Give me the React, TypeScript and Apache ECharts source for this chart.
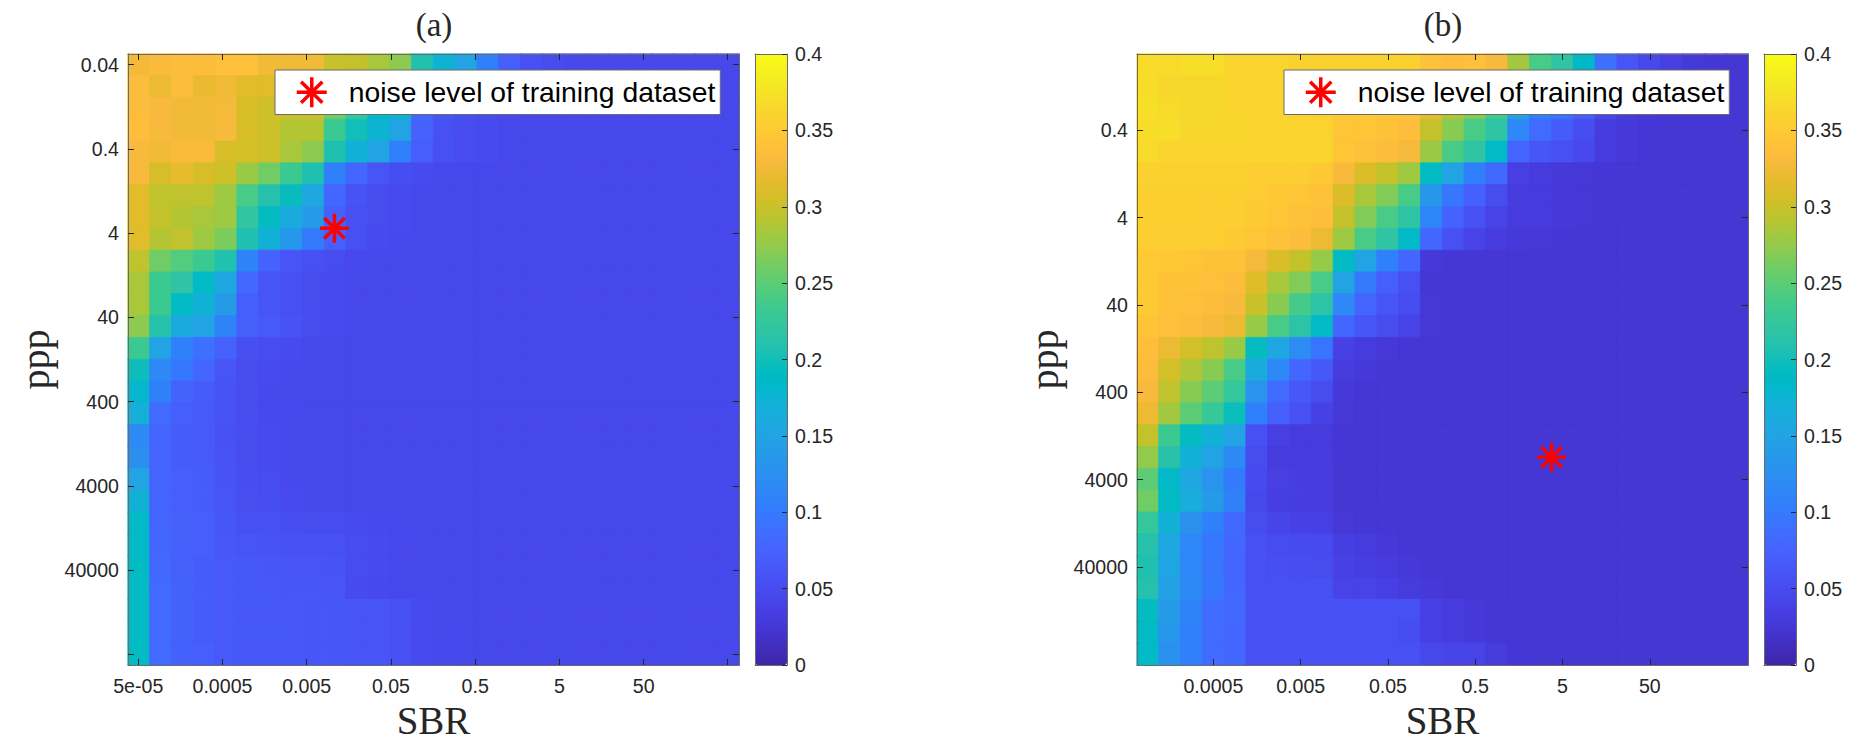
import React, { useEffect, useRef } from "react";
import * as echarts from "echarts";

const legendName = "noise level of training dataset";
const xLabelsA = ["5e-05", "0.0005", "0.005", "0.05", "0.5", "5", "50"];
const yLabelsA = ["0.04", "0.4", "4", "40", "400", "4000", "40000"];
const xLabelsB = ["0.0005", "0.005", "0.05", "0.5", "5", "50"];
const yLabelsB = ["0.4", "4", "40", "400", "4000", "40000"];
// tick places, counted in heatmap cells from the axis start
const xTicksA = [0.47, 4.33, 8.19, 12.05, 15.91, 19.77, 23.63, 27.48];
const yTicksA = [0.49, 4.35, 8.21, 12.07, 15.93, 19.79, 23.65, 27.51];
const ticksB = [3.5, 7.5, 11.5, 15.5, 19.5, 23.5];
const starA = [9.46, 7.99];
const starB = [19.0, 18.48];
const cells = ["1","2","3","4","5","6","7","8","9","10","11","12","13","14","15","16","17","18","19","20","21","22","23","24","25","26","27","28"];

const valuesA = [
  [.326,.332,.334,.334,.338,.338,.325, .325,.325,.300,.298,.285,.272,.208, .175,.150,.105,.070,.055,.050,.046, .045,.045,.045,.045,.045,.045,.045],
  [.335,.322,.335,.320,.325,.315,.315, .310,.308,.285,.260,.240,.220,.190, .160,.120,.080,.060,.052,.048,.046, .045,.045,.045,.045,.045,.045,.045],
  [.335,.330,.325,.325,.327,.308,.303, .300,.300,.260,.225,.187,.175,.080, .060,.054,.050,.048,.046,.045,.045, .045,.045,.045,.045,.045,.045,.045],
  [.337,.330,.325,.325,.330,.308,.303, .290,.290,.232,.200,.175,.150,.075, .056,.050,.048,.046,.046,.045,.045, .045,.045,.045,.045,.045,.045,.045],
  [.330,.325,.332,.332,.308,.306,.303, .285,.272,.207,.172,.150,.105,.070, .055,.050,.048,.046,.045,.045,.045, .045,.045,.045,.045,.045,.045,.045],
  [.330,.308,.318,.308,.303,.278,.260, .232,.207,.105,.080,.060,.052,.048, .046,.045,.045,.045,.045,.045,.045, .045,.045,.045,.045,.045,.045,.045],
  [.315,.295,.295,.295,.280,.240,.210, .195,.155,.080,.058,.050,.048,.046, .045,.045,.045,.045,.045,.045,.045, .045,.045,.045,.045,.045,.045,.045],
  [.315,.298,.290,.285,.280,.222,.192, .160,.140,.072,.055,.050,.048,.046, .045,.045,.045,.045,.045,.045,.045, .045,.045,.045,.045,.045,.045,.045],
  [.315,.290,.296,.280,.265,.207,.172, .135,.100,.072,.055,.048,.047,.046, .045,.045,.045,.045,.045,.045,.045, .045,.045,.045,.045,.045,.045,.045],
  [.295,.260,.245,.232,.208,.110,.075, .060,.054,.050,.047,.045,.045,.045, .045,.045,.045,.045,.045,.045,.045, .045,.045,.045,.045,.045,.045,.045],
  [.285,.232,.218,.187,.155,.082,.060, .055,.050,.048,.046,.045,.045,.045, .045,.045,.045,.045,.045,.045,.045, .045,.045,.045,.045,.045,.045,.045],
  [.285,.232,.190,.172,.140,.070,.060, .055,.050,.048,.046,.045,.045,.045, .045,.045,.045,.045,.045,.045,.045, .045,.045,.045,.045,.045,.045,.045],
  [.272,.212,.160,.150,.110,.072,.065, .058,.050,.048,.046,.045,.045,.045, .045,.045,.045,.045,.045,.045,.045, .045,.045,.045,.045,.045,.045,.045],
  [.232,.150,.105,.090,.075,.053,.050, .048,.046,.045,.045,.045,.045,.045, .045,.045,.045,.045,.045,.045,.045, .045,.045,.045,.045,.045,.045,.045],
  [.198,.115,.098,.080,.060,.050,.048, .046,.045,.045,.045,.045,.045,.045, .045,.045,.045,.045,.045,.045,.045, .045,.045,.045,.045,.045,.045,.045],
  [.180,.108,.075,.068,.058,.050,.047, .046,.045,.045,.045,.045,.045,.045, .045,.045,.045,.045,.045,.045,.045, .045,.045,.045,.045,.045,.045,.045],
  [.168,.085,.070,.065,.058,.050,.047, .046,.045,.045,.045,.045,.045,.045, .045,.045,.045,.045,.045,.045,.045, .045,.045,.045,.045,.045,.045,.045],
  [.118,.078,.068,.066,.056,.050,.048, .046,.045,.045,.045,.045,.045,.045, .045,.045,.045,.045,.045,.045,.045, .045,.045,.045,.045,.045,.045,.045],
  [.125,.078,.068,.066,.058,.050,.048, .046,.045,.045,.045,.045,.045,.045, .045,.045,.045,.045,.045,.045,.045, .045,.045,.045,.045,.045,.045,.045],
  [.150,.078,.070,.068,.058,.052,.050, .047,.046,.045,.045,.045,.045,.045, .045,.045,.045,.045,.045,.045,.045, .045,.045,.045,.045,.045,.045,.045],
  [.172,.078,.070,.068,.060,.053,.052, .048,.047,.046,.045,.045,.045,.045, .045,.045,.045,.045,.045,.045,.045, .045,.045,.045,.045,.045,.045,.045],
  [.187,.078,.072,.070,.062,.056,.054, .052,.050,.050,.048,.047,.046,.045, .045,.045,.045,.045,.045,.045,.045, .045,.045,.045,.045,.045,.045,.045],
  [.187,.080,.072,.070,.064,.060,.058, .056,.056,.056,.050,.048,.046,.045, .045,.045,.045,.045,.045,.045,.045, .045,.045,.045,.045,.045,.045,.045],
  [.190,.082,.072,.068,.066,.064,.062, .060,.060,.058,.050,.048,.046,.045, .045,.045,.045,.045,.045,.045,.045, .045,.045,.045,.045,.045,.045,.045],
  [.190,.084,.074,.068,.066,.064,.064, .062,.062,.060,.048,.047,.046,.045, .045,.045,.045,.045,.045,.045,.045, .045,.045,.045,.045,.045,.045,.045],
  [.190,.085,.074,.068,.066,.064,.064, .064,.062,.062,.060,.060,.056,.048, .046,.045,.045,.045,.045,.045,.045, .045,.045,.045,.045,.045,.045,.045],
  [.190,.085,.074,.068,.066,.064,.064, .064,.062,.062,.060,.060,.056,.048, .046,.045,.045,.045,.045,.045,.045, .045,.045,.045,.045,.045,.045,.045],
  [.190,.085,.074,.070,.066,.064,.064, .064,.062,.062,.060,.060,.056,.048, .046,.045,.045,.045,.045,.045,.045, .045,.045,.045,.045,.045,.045,.045],
];

const valuesB = [
  [.366,.366,.370,.370,.362,.362,.362, .358,.358,.358,.358,.358,.358,.340, .336,.338,.330,.282,.240,.218,.185, .090,.060,.045,.035,.028,.026,.025],
  [.368,.364,.364,.364,.362,.362,.362, .358,.356,.354,.352,.348,.344,.330, .310,.290,.265,.200,.150,.120,.080, .060,.045,.035,.028,.026,.025,.025],
  [.370,.366,.364,.364,.362,.362,.362, .358,.356,.350,.348,.345,.340,.318, .290,.270,.238,.150,.105,.095,.070, .045,.032,.028,.026,.025,.025,.025],
  [.368,.370,.364,.364,.364,.362,.362, .360,.360,.345,.345,.342,.336,.298, .270,.240,.218,.115,.085,.068,.052, .032,.028,.026,.025,.025,.025,.025],
  [.366,.362,.362,.362,.362,.362,.362, .362,.362,.345,.340,.335,.328,.278, .240,.218,.187,.078,.062,.054,.047, .032,.028,.026,.025,.025,.025,.025],
  [.358,.358,.358,.358,.358,.354,.354, .354,.348,.330,.310,.298,.280,.190, .150,.105,.083,.035,.030,.028,.027, .026,.025,.025,.025,.025,.025,.025],
  [.356,.356,.356,.356,.356,.352,.348, .345,.342,.310,.285,.267,.240,.135, .097,.073,.050,.033,.030,.028,.027, .026,.025,.025,.025,.025,.025,.025],
  [.356,.356,.356,.356,.354,.350,.345, .340,.336,.298,.267,.240,.218,.112, .075,.055,.040,.032,.030,.028,.027, .026,.025,.025,.025,.025,.025,.025],
  [.354,.354,.354,.354,.350,.345,.340, .335,.322,.280,.240,.218,.187,.080, .055,.040,.032,.028,.027,.026,.025, .025,.025,.025,.025,.025,.025,.025],
  [.350,.348,.345,.342,.342,.328,.310, .298,.276,.190,.150,.105,.080,.028, .026,.025,.025,.025,.025,.025,.025, .025,.025,.025,.025,.025,.025,.025],
  [.350,.342,.342,.338,.335,.313,.285, .267,.240,.150,.100,.070,.055,.026, .025,.025,.025,.025,.025,.025,.025, .025,.025,.025,.025,.025,.025,.025],
  [.350,.340,.338,.335,.330,.300,.270, .238,.216,.115,.078,.060,.050,.027, .025,.025,.025,.025,.025,.025,.025, .025,.025,.025,.025,.025,.025,.025],
  [.343,.338,.335,.330,.322,.277,.240, .216,.187,.080,.062,.050,.040,.027, .025,.025,.025,.025,.025,.025,.025, .025,.025,.025,.025,.025,.025,.025],
  [.337,.322,.306,.295,.277,.192,.155, .120,.095,.037,.030,.027,.026,.025, .025,.025,.025,.025,.025,.025,.025, .025,.025,.025,.025,.025,.025,.025],
  [.335,.306,.288,.270,.240,.160,.115, .080,.063,.032,.028,.026,.025,.025, .025,.025,.025,.025,.025,.025,.025, .025,.025,.025,.025,.025,.025,.025],
  [.330,.295,.270,.250,.225,.130,.085, .063,.050,.028,.026,.025,.025,.025, .025,.025,.025,.025,.025,.025,.025, .025,.025,.025,.025,.025,.025,.025],
  [.322,.282,.250,.228,.197,.105,.073, .056,.038,.027,.025,.025,.025,.025, .025,.025,.025,.025,.025,.025,.025, .025,.025,.025,.025,.025,.025,.025],
  [.298,.232,.192,.172,.150,.056,.035, .032,.030,.026,.025,.025,.025,.025, .025,.025,.025,.025,.025,.025,.025, .025,.025,.025,.025,.025,.025,.025],
  [.275,.213,.172,.150,.118,.050,.033, .030,.030,.026,.025,.025,.025,.025, .025,.025,.025,.025,.025,.025,.025, .025,.025,.025,.025,.025,.025,.025],
  [.250,.187,.155,.130,.100,.048,.035, .033,.032,.025,.025,.025,.025,.025, .025,.025,.025,.025,.025,.025,.025, .025,.025,.025,.025,.025,.025,.025],
  [.260,.190,.165,.140,.108,.046,.034, .033,.032,.025,.025,.025,.025,.025, .025,.025,.025,.025,.025,.025,.025, .025,.025,.025,.025,.025,.025,.025],
  [.225,.172,.128,.108,.083,.050,.042, .038,.036,.027,.026,.025,.025,.025, .025,.025,.025,.025,.025,.025,.025, .025,.025,.025,.025,.025,.025,.025],
  [.212,.155,.115,.098,.080,.055,.050, .048,.048,.034,.032,.028,.026,.025, .025,.025,.025,.025,.025,.025,.025, .025,.025,.025,.025,.025,.025,.025],
  [.207,.152,.115,.097,.078,.055,.053, .052,.050,.038,.034,.030,.028,.026, .025,.025,.025,.025,.025,.025,.025, .025,.025,.025,.025,.025,.025,.025],
  [.210,.148,.118,.098,.080,.056,.056, .056,.056,.040,.040,.036,.032,.028, .026,.025,.025,.025,.025,.025,.025, .025,.025,.025,.025,.025,.025,.025],
  [.192,.140,.110,.087,.082,.056,.056, .056,.056,.056,.056,.056,.054,.036, .032,.028,.026,.025,.025,.025,.025, .025,.025,.025,.025,.025,.025,.025],
  [.190,.135,.105,.085,.080,.056,.056, .056,.056,.056,.056,.055,.052,.036, .032,.028,.026,.025,.025,.025,.025, .025,.025,.025,.025,.025,.025,.025],
  [.188,.128,.105,.085,.080,.056,.056, .056,.056,.056,.056,.056,.056,.045, .042,.040,.030,.026,.025,.025,.025, .025,.025,.025,.025,.025,.025,.025],
];

const parula = [
  "#3e26a8","#402ab4","#422ebf","#4332cb","#4537d5","#463cde","#4741e5","#4747eb","#474df0","#4752f4","#4758f8","#465efb","#4563fd","#4269fe","#3e6fff","#3875fe","#327cfc","#2f81fa","#2e87f7","#2d8cf3","#2b91ef","#2796eb","#259be7","#23a0e5","#20a5e3","#1ca9df","#18addb","#12b1d6","#08b5d0","#01b8ca","#02bac3","#0bbdbc","#19bfb6","#24c1ae","#2cc3a7","#31c69f","#37c897","#3fca8e","#4acb84","#57cc7a","#64cd6f","#71cd64","#80cc59","#8fcb4e","#9dc943","#abc739","#b9c431","#c5c22a","#d1bf27","#dcbd29","#e6bb2d","#efba36","#f8ba3d","#febe3c","#fec338","#fec934","#fccf30","#f9d52d","#f7dc2a","#f5e327","#f5e924","#f6ef20","#f7f51b","#f9fb15",
];

const axisGrey = "#6b6b6b";
const textDark = "#262626";
const sans = "Liberation Sans";
const serif = "Liberation Serif";
const starPath = "path://M0,-10L0,10M-10,0L10,0M-7.07,-7.07L7.07,7.07M7.07,-7.07L-7.07,7.07";

// each cell gets a thin edge in its own colour, so that no seam shows between cells
const toCells = (rows: number[][]) =>
  rows.flatMap((row, r) =>
    row.map((v, c) => ({
      value: [c, r, v],
      itemStyle: {
        borderWidth: 0.7,
        borderColor: echarts.color.lerp(v / 0.4, parula),
      },
    })),
  );

const labelFormatter = (ticks: number[], labels: string[]) => (v: number) => {
  const i = ticks.indexOf(v);
  return i >= 0 && i < labels.length ? labels[i] : "";
};

function cellAxis(gridIndex: number, inverse: boolean) {
  return { type: "category", gridIndex, data: cells, show: false, inverse };
}

function frameAxis(
  gridIndex: number,
  position: string,
  ticks: number[],
  labels: string[] | null,
  name: string,
  inverse: boolean,
) {
  const vertical = position === "left" || position === "right";
  return {
    type: "value",
    gridIndex,
    position,
    min: 0,
    max: 28,
    inverse,
    z: 5,
    splitLine: { show: false },
    axisLine: { show: true, onZero: false, lineStyle: { color: axisGrey, width: 1 } },
    axisTick: {
      show: true,
      inside: true,
      length: 6,
      customValues: ticks,
      lineStyle: { color: textDark, width: 1 },
    },
    axisLabel: labels
      ? {
          show: true,
          customValues: ticks.slice(0, labels.length),
          formatter: labelFormatter(ticks, labels),
          color: textDark,
          fontFamily: sans,
          fontSize: 19.6,
          margin: vertical ? 9 : 11,
        }
      : { show: false },
    name,
    nameLocation: "middle",
    nameGap: vertical ? 73 : 33,
    nameTextStyle: {
      fontFamily: serif,
      fontSize: vertical ? 40 : 39,
      color: textDark,
    },
  };
}

function barXAxis(gridIndex: number, position: string) {
  return {
    type: "value",
    gridIndex,
    position,
    min: 0,
    max: 1,
    z: 5,
    splitLine: { show: false },
    axisLabel: { show: false },
    axisTick: { show: false },
    axisLine: { show: true, onZero: false, lineStyle: { color: axisGrey, width: 1 } },
  };
}

function barYAxis(gridIndex: number, position: string, withLabels: boolean) {
  return {
    type: "value",
    gridIndex,
    position,
    min: 0,
    max: 0.4,
    interval: 0.05,
    z: 5,
    splitLine: { show: false },
    axisLine: { show: true, onZero: false, lineStyle: { color: axisGrey, width: 1 } },
    axisTick: {
      show: withLabels,
      inside: true,
      length: 5,
      lineStyle: { color: textDark, width: 1 },
    },
    axisLabel: {
      show: withLabels,
      color: textDark,
      fontFamily: sans,
      fontSize: 19.6,
      margin: 8,
      hideOverlap: false,
      formatter: (v: number) => String(+v.toFixed(2)),
    },
  };
}

function legendBox(left: number) {
  return {
    left,
    top: 70,
    orient: "horizontal",
    data: [legendName],
    selectedMode: false,
    icon: starPath,
    itemWidth: 64,
    itemHeight: 30,
    padding: [5.5, 5, 5.5, 20],
    backgroundColor: "#ffffff",
    borderColor: axisGrey,
    borderWidth: 1,
    z: 10,
    itemStyle: { color: "#ff0000", borderColor: "#ff0000", borderWidth: 3.5 },
    textStyle: { fontFamily: sans, fontSize: 28.3, color: "#000000" },
  };
}

function colourBar(left: number, seriesIndex: number) {
  return {
    type: "continuous",
    seriesIndex,
    dimension: 2,
    min: 0,
    max: 0.4,
    calculable: false,
    hoverLink: false,
    inRange: { color: parula },
    orient: "vertical",
    left,
    top: 54,
    itemWidth: 32,
    itemHeight: 611,
    padding: 0,
    text: null,
  };
}

function heatmap(name: string, index: number, rows: number[][]) {
  return {
    type: "heatmap",
    name,
    xAxisIndex: index,
    yAxisIndex: index,
    data: toCells(rows),
    silent: true,
    emphasis: { disabled: true },
    progressive: 0,
  };
}

function star(xAxisIndex: number, yAxisIndex: number, at: number[]) {
  return {
    type: "scatter",
    name: legendName,
    xAxisIndex,
    yAxisIndex,
    data: [at],
    symbol: starPath,
    symbolSize: 29,
    silent: true,
    z: 6,
    itemStyle: { color: "#ff0000", borderColor: "#ff0000", borderWidth: 3.5, opacity: 1 },
  };
}

const option = {
  animation: false,
  backgroundColor: "#ffffff",
  title: [
    { text: "(a)", left: 429, top: 3, textAlign: "center", textStyle: { fontFamily: serif, fontWeight: "normal", fontSize: 33, color: textDark } },
    { text: "(b)", left: 1438, top: 3, textAlign: "center", textStyle: { fontFamily: serif, fontWeight: "normal", fontSize: 33, color: textDark } },
  ],
  grid: [
    { left: 128, top: 54, width: 611, height: 611 },
    { left: 1137, top: 54, width: 611, height: 611 },
    { left: 755, top: 54, width: 32, height: 611 },
    { left: 1764, top: 54, width: 32, height: 611 },
  ],
  xAxis: [
    cellAxis(0, false),
    cellAxis(1, false),
    frameAxis(0, "bottom", xTicksA, xLabelsA, "SBR", false),
    frameAxis(0, "top", xTicksA, null, "", false),
    frameAxis(1, "bottom", ticksB, xLabelsB, "SBR", false),
    frameAxis(1, "top", ticksB, null, "", false),
    barXAxis(2, "bottom"),
    barXAxis(2, "top"),
    barXAxis(3, "bottom"),
    barXAxis(3, "top"),
  ],
  yAxis: [
    cellAxis(0, true),
    cellAxis(1, true),
    frameAxis(0, "left", yTicksA, yLabelsA, "ppp", true),
    frameAxis(0, "right", yTicksA, null, "", true),
    frameAxis(1, "left", ticksB, yLabelsB, "ppp", true),
    frameAxis(1, "right", ticksB, null, "", true),
    barYAxis(2, "left", false),
    barYAxis(2, "right", true),
    barYAxis(3, "left", false),
    barYAxis(3, "right", true),
  ],
  legend: [legendBox(275), legendBox(1284)],
  visualMap: [colourBar(755, 0), colourBar(1764, 1)],
  series: [
    heatmap("(a)", 0, valuesA),
    heatmap("(b)", 1, valuesB),
    star(2, 2, starA),
    star(4, 4, starB),
  ],
};

export default function App() {
  const ref = useRef<HTMLDivElement>(null);
  useEffect(() => {
    document.body.style.margin = "0";
    const chart = echarts.init(ref.current as HTMLDivElement, undefined, { renderer: "svg" });
    chart.setOption(option as any);
    return () => chart.dispose();
  }, []);
  return <div ref={ref} style={{ width: 1870, height: 748, background: "#fff" }} />;
}
